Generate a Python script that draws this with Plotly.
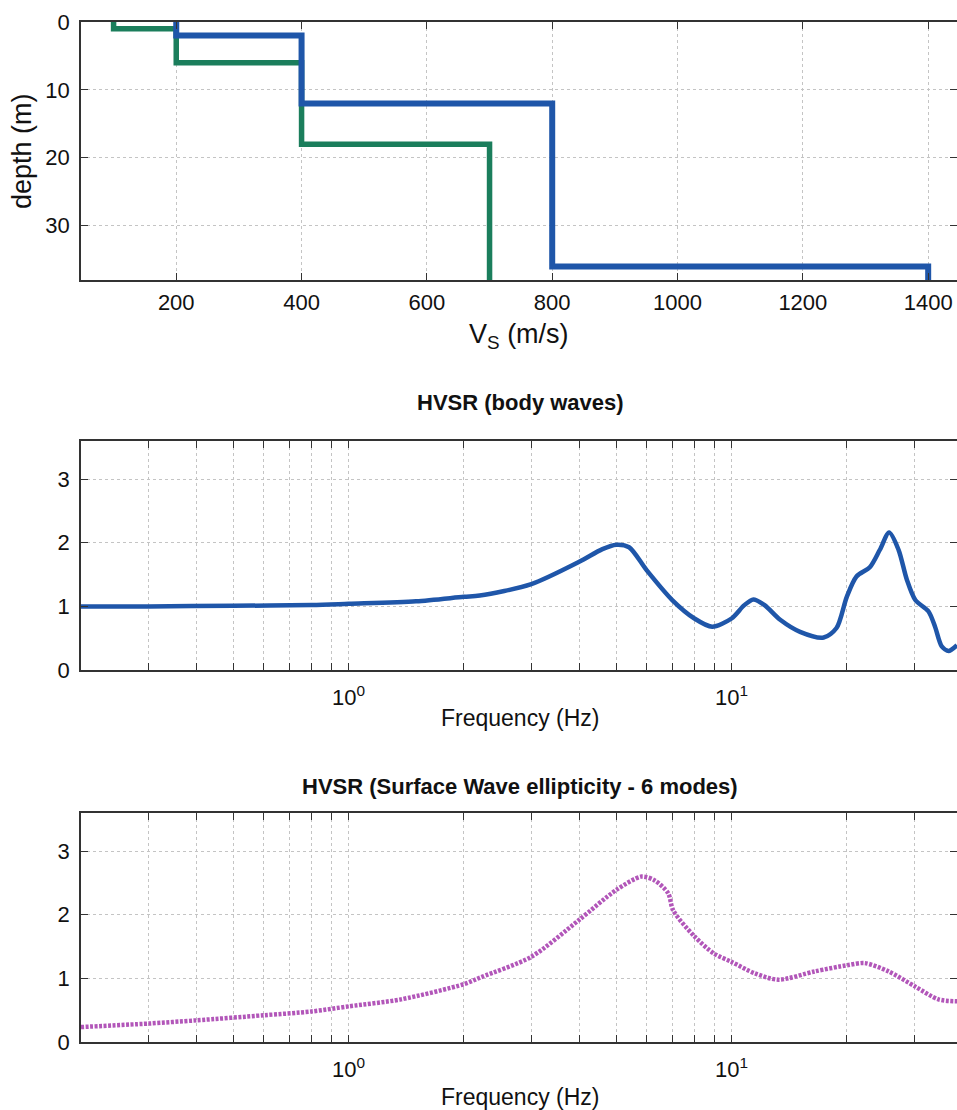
import plotly.graph_objects as go
import math

# ---------------- data ----------------
# Vs profiles (layer velocities and interface depths)
vs_green = [100, 200, 400, 700]
depth_green = [0, 1, 6, 18, 38]
vs_blue = [200, 400, 800, 1400]
depth_blue = [0, 2, 12, 36, 38]

# HVSR body waves
freq_body = [0.2, 0.3, 0.5, 0.8, 1.0, 1.5, 2.0, 2.2, 3.0, 4.0, 4.6, 5.0, 5.4, 6.0, 7.0, 8.0, 8.9,
             10.0, 10.8, 11.4, 12.2, 13.4, 15.1, 17.4, 18.8, 20.0, 21.2, 23.0, 24.4, 25.8,
             27.3, 28.7, 30.2, 32.7, 34.0, 35.4, 36.9, 38.8]
hv_body = [1.0, 1.0, 1.01, 1.02, 1.04, 1.08, 1.15, 1.17, 1.35, 1.70, 1.90, 1.97, 1.93, 1.57, 1.10, 0.81, 0.68,
           0.81, 1.02, 1.11, 1.02, 0.79, 0.60, 0.51, 0.66, 1.15, 1.47, 1.62, 1.89, 2.16,
           1.89, 1.42, 1.10, 0.92, 0.68, 0.37, 0.30, 0.39]

# HVSR surface-wave ellipticity
freq_surf = [0.2, 0.3, 0.4, 0.6, 0.8, 1.0, 1.37, 2.0, 2.22, 3.0, 4.0, 5.0, 5.82, 6.3, 6.83, 7.04,
             8.0, 9.0, 10.0, 11.5, 13.25, 16.5, 20.2, 22.3, 25.7, 30.2, 34.7, 39.2]
hv_surf = [0.235, 0.29, 0.34, 0.42, 0.48, 0.56, 0.67, 0.91, 1.02, 1.34, 1.92, 2.39, 2.60, 2.54, 2.34, 2.07,
           1.66, 1.39, 1.26, 1.08, 0.98, 1.11, 1.21, 1.24, 1.11, 0.87, 0.67, 0.64]

vs_ticks = [200, 400, 600, 800, 1000, 1200, 1400]
depth_ticks = [0, 10, 20, 30]
hv_ticks = [0, 1, 2, 3]
log_major = [1, 10]
log_major_text = ["10<sup>0</sup>", "10<sup>1</sup>"]
log_minor = [0.2, 0.3, 0.4, 0.5, 0.6, 0.7, 0.8, 0.9, 2, 3, 4, 5, 6, 7, 8, 9, 20, 30]

BLUE = "#1f56a9"
GREEN = "#1b7e5c"
MAGENTA = "#b256b9"
FONT = "Arial, Liberation Sans, sans-serif"
GRID = "#c4c4c4"


def steps(vs, depth):
    xs, ys = [], []
    for i, v in enumerate(vs):
        xs += [v, v]
        ys += [depth[i], depth[i + 1]]
    return xs, ys


fig = go.Figure()

gx, gy = steps(vs_green, depth_green)
bx, by = steps(vs_blue, depth_blue)
fig.add_trace(go.Scatter(x=gx, y=gy, mode="lines", line=dict(color=GREEN, width=5.5), xaxis="x", yaxis="y"))
fig.add_trace(go.Scatter(x=bx, y=by, mode="lines", line=dict(color=BLUE, width=6), xaxis="x", yaxis="y"))

fig.add_trace(go.Scatter(x=freq_body, y=hv_body, mode="lines",
                         line=dict(color=BLUE, width=4.5, shape="spline", smoothing=0.8),
                         xaxis="x2", yaxis="y2"))
fig.add_trace(go.Scatter(x=freq_surf, y=hv_surf, mode="lines",
                         line=dict(color=MAGENTA, width=4.5, dash="3px,1.5px", shape="spline", smoothing=0.8),
                         xaxis="x3", yaxis="y3"))

W, H = 957, 1110
left = 81 / W


def yd(top_px, bot_px):
    return [1 - bot_px / H, 1 - top_px / H]


axis_common = dict(
    showline=True, linecolor="#333333", linewidth=1.5, mirror="ticks",
    ticks="inside", ticklen=7, tickwidth=1.2, tickcolor="#333333",
    showgrid=True, gridcolor=GRID, griddash="dot", gridwidth=1,
    zeroline=False, automargin=False, tickangle=0,
    tickfont=dict(family=FONT, size=22, color="#111111"),
)
log_minor_cfg = dict(tickmode="array", tickvals=log_minor, ticks="inside", ticklen=7,
                     tickwidth=1.2, tickcolor="#333333", showgrid=True, gridcolor=GRID,
                     griddash="dot", gridwidth=1)
log_range = [math.log10(0.2), math.log10(38.8)]

fig.update_layout(
    width=W, height=H, margin=dict(l=0, r=0, t=0, b=0, autoexpand=False),
    paper_bgcolor="white", plot_bgcolor="white", showlegend=False,
    font=dict(family=FONT, color="#111111"),
    xaxis=dict(domain=[left, 1], anchor="y", range=[48, 1446], tickvals=vs_ticks,
               ticklabelstandoff=2, **axis_common),
    yaxis=dict(domain=yd(22, 280), anchor="x", range=[38, 0], tickvals=depth_ticks,
               ticklabelstandoff=5, **axis_common),
    xaxis2=dict(domain=[left, 1], anchor="y2", type="log", range=log_range,
                tickvals=log_major, ticktext=log_major_text, minor=log_minor_cfg,
                ticklabelstandoff=7, **axis_common),
    yaxis2=dict(domain=yd(441, 670), anchor="x2", range=[0, 3.6], tickvals=hv_ticks,
                ticklabelstandoff=5, **axis_common),
    xaxis3=dict(domain=[left, 1], anchor="y3", type="log", range=log_range,
                tickvals=log_major, ticktext=log_major_text, minor=log_minor_cfg,
                ticklabelstandoff=7, **axis_common),
    yaxis3=dict(domain=yd(813, 1042), anchor="x3", range=[0, 3.6], tickvals=hv_ticks,
                ticklabelstandoff=5, **axis_common),
)

ann = [
    dict(text="depth (m)", x=22 / W, y=1 - 151 / H, textangle=-90, font=dict(size=27)),
    dict(text="V<sub>S</sub> (m/s)", x=519 / W, y=1 - 336 / H, font=dict(size=27)),
    dict(text="<b>HVSR (body waves)</b>", x=520 / W, y=1 - 402 / H, font=dict(size=22)),
    dict(text="Frequency (Hz)", x=520 / W, y=1 - 718 / H, font=dict(size=23)),
    dict(text="<b>HVSR (Surface Wave ellipticity - 6 modes)</b>", x=520 / W, y=1 - 786 / H, font=dict(size=22)),
    dict(text="Frequency (Hz)", x=520 / W, y=1 - 1097 / H, font=dict(size=23)),
]
for a in ann:
    a.update(xref="paper", yref="paper", showarrow=False, xanchor="center", yanchor="middle")
    a["font"].update(family=FONT, color="#111111")
fig.update_layout(annotations=ann)

fig.write_html("out.html", config={"displayModeBar": False},
               post_script="document.body.style.margin='0px';document.body.style.overflow='hidden';")
